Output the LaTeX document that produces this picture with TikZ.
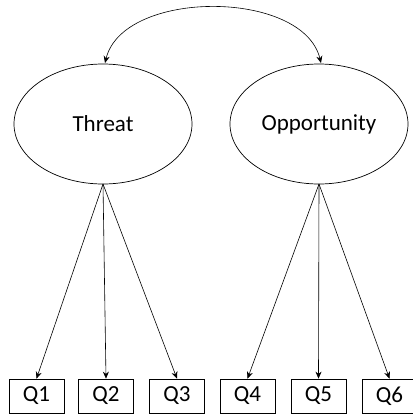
\documentclass[tikz,border=0pt]{standalone}
\usepackage{fontspec}
\setmainfont{Carlito}
\usetikzlibrary{arrows.meta,shapes.geometric}
\begin{document}
\begin{tikzpicture}[x=1pt,y=-1pt,
  lat/.style={draw,ellipse,line width=0.7pt,minimum width=178pt,minimum height=120pt,inner sep=0pt,font=\fontsize{23}{25}\selectfont},
  obs/.style={draw,rectangle,line width=0.7pt,minimum width=55pt,minimum height=34pt,inner sep=0pt,font=\fontsize{23}{25}\selectfont},
  arr/.style={line width=0.6pt,-{Stealth[length=7pt,width=6pt]}}]
\useasboundingbox (0,0) rectangle (413,416);
\node[lat] (T) at (103,124) {Threat};
\node[lat] (O) at (319,124) {Opportunity};
\node[obs] (q1) at (36.5,396) {Q1};
\node[obs] (q2) at (106,396) {Q2};
\node[obs] (q3) at (177,396) {Q3};
\node[obs] (q4) at (247.5,396) {Q4};
\node[obs] (q5) at (318.5,396) {Q5};
\node[obs] (q6) at (389.5,396) {Q6};
\coordinate (tb) at (103,184);
\coordinate (ob) at (319,184);
\draw[arr] (tb) -- (q1.north);
\draw[arr] (tb) -- (q2.north);
\draw[arr] (tb) -- (q3.north);
\draw[arr] (ob) -- (q4.north);
\draw[arr] (ob) -- (q5.north);
\draw[arr] (ob) -- (q6.north);
\coordinate (tt) at (105,63);
\coordinate (ot) at (321,63);
\draw[line width=0.6pt,{Stealth[length=7pt,width=6pt]}-{Stealth[length=7pt,width=6pt]}] (tt) .. controls (123,-11) and (303,-11) .. (ot);
\end{tikzpicture}
\end{document}
